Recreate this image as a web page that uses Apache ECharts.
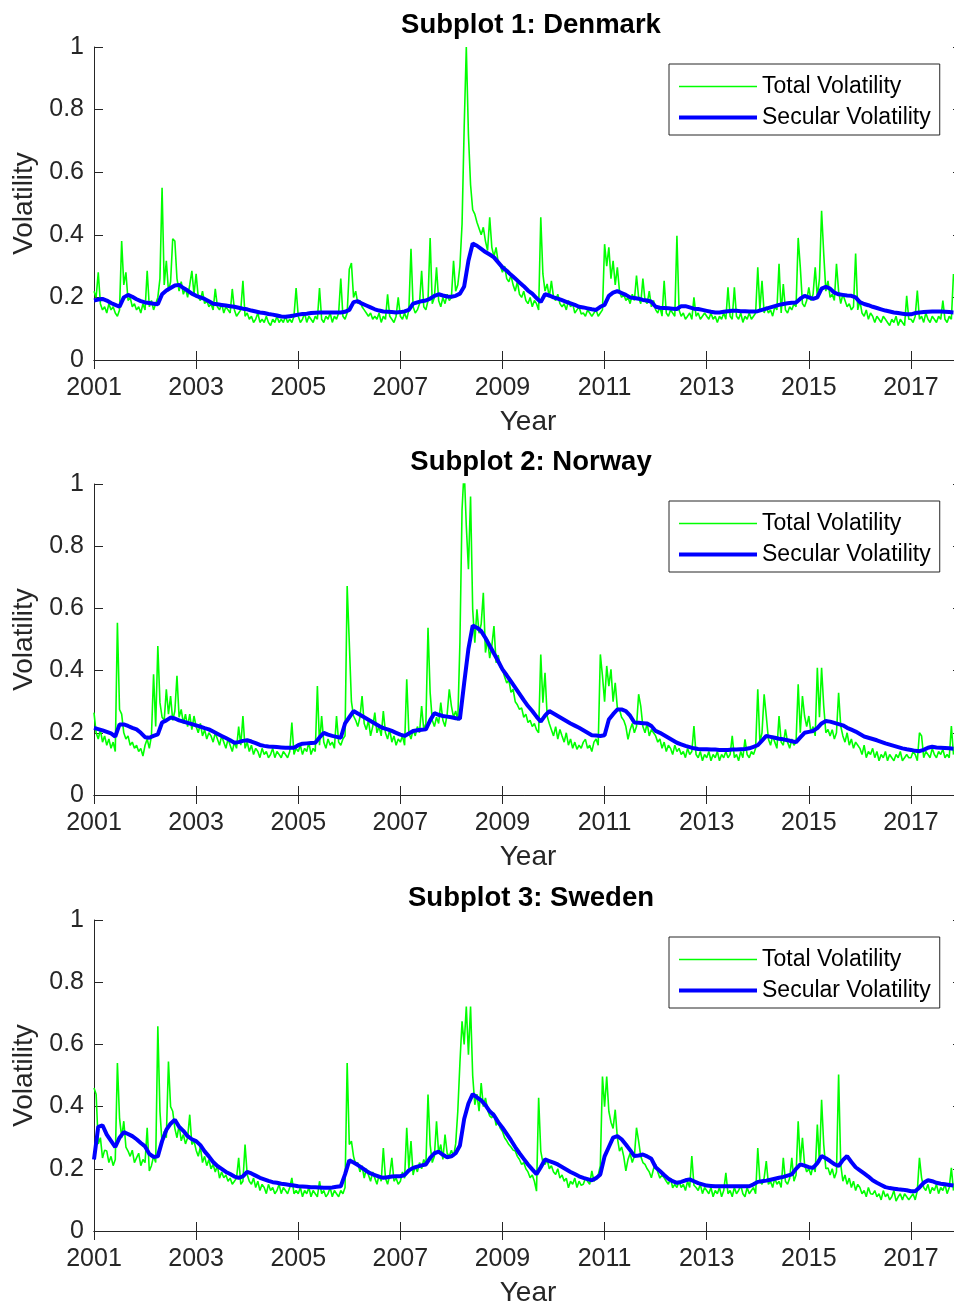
<!DOCTYPE html>
<html><head><meta charset="utf-8">
<script src="https://cdn.jsdelivr.net/npm/echarts@6/dist/echarts.min.js"></script>
<style>html,body{margin:0;padding:0;background:#fff}#c{width:954px;height:1307px}</style>
</head><body><div id="c"></div>
<script>
const startYear = 2001;
const titles = ['Subplot 1: Denmark', 'Subplot 2: Norway', 'Subplot 3: Sweden'];
const seriesNames = ['Total Volatility', 'Secular Volatility'];
const xLabel = 'Year';
const yLabel = 'Volatility';
// one row per year: total = 24 samples/year, secular = 12 samples/year
const dkTotal = [
[.22,.20,.28,.18,.16,.17,.15,.18,.16,.17,.15,.14,.16,.38,.24,.28,.19,.20,.17,.18,.16,.17,.15,.18],
[.16,.285,.17,.19,.16,.18,.20,.26,.55,.24,.317,.22,.25,.387,.38,.26,.22,.25,.21,.23,.20,.24,.285,.21],
[.275,.20,.19,.22,.18,.19,.17,.18,.16,.227,.17,.16,.18,.15,.17,.16,.15,.227,.16,.14,.15,.16,.253,.14],
[.15,.13,.14,.12,.13,.15,.12,.13,.12,.14,.12,.11,.13,.12,.14,.12,.13,.12,.14,.12,.13,.12,.14,.23],
[.14,.12,.13,.15,.12,.14,.13,.12,.14,.13,.23,.13,.12,.14,.13,.15,.12,.14,.13,.15,.26,.14,.13,.15],
[.29,.31,.20,.22,.18,.19,.17,.16,.15,.14,.15,.13,.14,.13,.15,.12,.14,.13,.21,.14,.13,.12,.14,.20],
[.14,.13,.15,.13,.16,.355,.17,.15,.16,.18,.285,.17,.16,.19,.39,.18,.20,.296,.19,.17,.20,.18,.21,.19],
[.20,.317,.22,.24,.30,.434,.743,1.0,.72,.56,.48,.466,.44,.42,.40,.424,.38,.35,.456,.36,.33,.36,.31,.30],
[.28,.30,.26,.25,.27,.24,.22,.25,.21,.20,.22,.19,.18,.20,.17,.19,.18,.16,.456,.275,.22,.243,.20,.253],
[.20,.19,.21,.18,.17,.18,.16,.19,.17,.18,.15,.16,.17,.147,.15,.14,.16,.15,.14,.15,.16,.14,.15,.16],
[.37,.30,.36,.26,.317,.24,.296,.22,.20,.21,.19,.20,.18,.21,.19,.27,.20,.18,.26,.19,.18,.22,.17,.19],
[.16,.15,.17,.14,.253,.15,.14,.16,.15,.14,.397,.16,.14,.15,.13,.14,.15,.13,.20,.14,.15,.13,.14,.15],
[.14,.13,.15,.13,.14,.12,.14,.13,.15,.13,.232,.14,.13,.232,.14,.13,.15,.12,.14,.13,.15,.13,.14,.15],
[.296,.16,.253,.15,.17,.15,.16,.14,.17,.16,.307,.15,.243,.16,.15,.17,.16,.18,.17,.39,.296,.18,.17,.19],
[.232,.19,.21,.296,.20,.26,.477,.34,.22,.253,.20,.21,.19,.307,.22,.18,.21,.19,.17,.18,.16,.17,.34,.16],
[.19,.15,.14,.16,.13,.15,.14,.12,.14,.13,.12,.14,.13,.12,.11,.13,.12,.14,.11,.13,.12,.11,.205,.13],
[.13,.12,.14,.222,.13,.14,.12,.15,.13,.12,.14,.13,.12,.14,.13,.19,.13,.12,.14,.13,.275]
];
const dkSecular = [
[.190,.193,.195,.190,.182,.176,.170,.200,.208,.202,.194,.188],
[.184,.182,.180,.178,.210,.222,.230,.238,.240,.230,.222,.212],
[.205,.200,.195,.188,.180,.178,.176,.174,.172,.170,.167,.164],
[.162,.158,.155,.152,.150,.147,.145,.142,.139,.138,.140,.142],
[.145,.147,.148,.150,.151,.152,.152,.152,.152,.152,.152,.154],
[.160,.185,.188,.180,.174,.168,.162,.158,.155,.154,.153,.152],
[.153,.155,.160,.180,.184,.188,.190,.196,.205,.210,.206,.203],
[.202,.205,.212,.235,.317,.372,.365,.355,.345,.337,.328,.312],
[.296,.285,.272,.260,.248,.236,.222,.212,.198,.185,.210,.206],
[.200,.196,.191,.186,.181,.176,.170,.168,.165,.162,.160,.170],
[.176,.205,.215,.220,.214,.208,.200,.198,.196,.192,.190,.186],
[.170,.167,.166,.165,.164,.163,.172,.172,.168,.164,.163,.160],
[.157,.154,.152,.152,.154,.156,.157,.157,.156,.156,.155,.155],
[.156,.160,.164,.168,.172,.176,.179,.181,.183,.184,.196,.205],
[.200,.195,.200,.228,.234,.228,.215,.210,.208,.206,.205,.200],
[.185,.179,.175,.170,.166,.162,.158,.155,.152,.150,.148,.146],
[.146,.150,.152,.153,.154,.155,.155,.155,.154,.153,.152]
];
const noTotal = [
[.265,.20,.18,.21,.17,.19,.16,.18,.15,.17,.14,.554,.275,.26,.20,.18,.19,.16,.17,.15,.16,.14,.15,.125],
[.16,.18,.15,.19,.388,.22,.479,.297,.25,.24,.34,.26,.318,.24,.27,.383,.25,.275,.23,.26,.22,.26,.21,.254],
[.22,.20,.23,.19,.21,.18,.20,.19,.17,.20,.18,.16,.19,.17,.15,.18,.16,.14,.17,.15,.22,.16,.254,.15],
[.17,.14,.16,.13,.15,.14,.12,.15,.13,.14,.12,.13,.15,.12,.14,.13,.12,.14,.13,.12,.14,.233,.13,.15],
[.14,.16,.13,.15,.14,.17,.13,.15,.14,.35,.16,.254,.17,.15,.18,.16,.17,.15,.254,.17,.16,.18,.19,.672],
[.49,.30,.254,.24,.22,.25,.318,.23,.21,.24,.19,.22,.265,.20,.22,.19,.27,.20,.18,.21,.17,.19,.16,.18],
[.17,.19,.16,.372,.20,.18,.21,.19,.22,.20,.286,.21,.23,.538,.33,.24,.22,.25,.23,.297,.24,.22,.26,.34],
[.286,.25,.27,.24,.49,.918,1.05,.865,.726,.96,.597,.49,.597,.52,.55,.65,.458,.50,.44,.48,.543,.425,.45,.41],
[.404,.38,.36,.37,.33,.34,.30,.29,.275,.28,.25,.26,.233,.24,.22,.23,.21,.20,.452,.297,.393,.254,.23,.21],
[.19,.22,.18,.211,.19,.17,.20,.16,.18,.15,.17,.147,.16,.15,.17,.179,.15,.16,.14,.17,.18,.16,.452,.383],
[.30,.415,.35,.404,.30,.361,.28,.275,.25,.24,.22,.179,.21,.23,.20,.22,.324,.286,.22,.20,.23,.19,.211,.20],
[.19,.17,.18,.15,.17,.14,.16,.15,.13,.16,.14,.15,.13,.14,.12,.15,.13,.14,.222,.13,.12,.14,.11,.13],
[.12,.14,.11,.13,.12,.14,.11,.13,.12,.14,.12,.13,.19,.12,.13,.11,.14,.12,.179,.13,.12,.14,.13,.15],
[.34,.17,.20,.324,.254,.18,.16,.19,.17,.15,.254,.17,.16,.211,.17,.15,.18,.16,.17,.356,.20,.318,.254,.22],
[.254,.20,.22,.19,.409,.25,.409,.286,.20,.211,.19,.21,.18,.20,.329,.222,.19,.17,.20,.16,.18,.15,.17,.16],
[.15,.13,.16,.12,.14,.13,.15,.12,.14,.11,.13,.12,.14,.11,.13,.12,.11,.13,.12,.14,.11,.12,.13,.12],
[.12,.14,.13,.11,.20,.19,.12,.14,.13,.12,.15,.13,.12,.14,.13,.147,.12,.13,.12,.222,.13]
];
const noSecular = [
[.216,.212,.208,.203,.198,.188,.227,.227,.222,.216,.211,.200],
[.186,.184,.190,.195,.233,.240,.249,.246,.240,.236,.232,.228],
[.224,.220,.215,.211,.204,.197,.190,.183,.176,.168,.170,.174],
[.176,.172,.167,.161,.158,.156,.155,.154,.153,.152,.152,.152],
[.160,.165,.166,.167,.168,.185,.200,.194,.190,.187,.184,.230],
[.250,.270,.262,.254,.246,.238,.230,.222,.215,.211,.206,.200],
[.194,.190,.198,.206,.208,.210,.211,.240,.263,.258,.254,.252],
[.250,.247,.245,.360,.470,.545,.538,.527,.505,.480,.455,.430],
[.404,.385,.365,.345,.325,.305,.286,.270,.252,.236,.255,.270],
[.262,.254,.246,.238,.230,.223,.216,.208,.200,.192,.191,.190],
[.192,.243,.260,.275,.275,.270,.255,.233,.232,.231,.230,.222],
[.206,.200,.192,.184,.176,.168,.163,.158,.154,.150,.148,.147],
[.147,.146,.146,.145,.145,.145,.146,.146,.147,.148,.150,.155],
[.160,.175,.190,.187,.184,.181,.179,.176,.173,.170,.185,.200],
[.203,.206,.215,.230,.238,.236,.232,.228,.224,.216,.210,.204],
[.196,.188,.184,.180,.176,.171,.166,.162,.158,.154,.150,.147],
[.145,.142,.141,.145,.152,.155,.153,.152,.151,.150,.149]
];
const seTotal = [
[.46,.44,.28,.30,.235,.26,.257,.22,.24,.21,.23,.54,.364,.30,.353,.27,.257,.24,.26,.22,.235,.25,.21,.23],
[.22,.332,.193,.21,.24,.22,.658,.385,.28,.32,.30,.545,.40,.385,.33,.30,.34,.29,.31,.28,.30,.374,.278,.29],
[.26,.24,.27,.22,.24,.21,.23,.20,.214,.19,.21,.17,.19,.171,.18,.16,.17,.15,.16,.17,.235,.15,.16,.278],
[.182,.16,.15,.17,.14,.16,.13,.15,.14,.12,.15,.13,.14,.12,.13,.15,.12,.14,.13,.12,.14,.171,.12,.13],
[.12,.14,.11,.13,.12,.14,.11,.13,.12,.11,.16,.12,.13,.11,.12,.14,.11,.13,.12,.11,.13,.12,.14,.54],
[.278,.289,.24,.214,.22,.19,.21,.17,.20,.18,.16,.19,.17,.15,.18,.16,.267,.17,.15,.18,.235,.16,.17,.15],
[.16,.19,.17,.332,.20,.289,.18,.21,.19,.22,.20,.23,.21,.439,.278,.22,.24,.353,.25,.278,.23,.31,.25,.24],
[.26,.24,.28,.385,.54,.674,.60,.722,.567,.722,.50,.406,.44,.385,.476,.40,.428,.39,.37,.364,.38,.34,.35,.33],
[.32,.30,.29,.278,.27,.26,.257,.24,.23,.214,.22,.20,.19,.171,.18,.16,.128,.428,.257,.22,.214,.23,.20,.21],
[.19,.182,.20,.17,.18,.16,.17,.139,.16,.15,.17,.14,.16,.147,.15,.17,.16,.15,.193,.16,.17,.18,.21,.497],
[.40,.497,.385,.35,.33,.39,.30,.257,.27,.24,.193,.23,.25,.22,.24,.332,.289,.24,.22,.214,.20,.19,.171,.20],
[.214,.19,.17,.18,.171,.16,.15,.17,.139,.15,.14,.16,.14,.15,.13,.16,.14,.241,.147,.14,.13,.15,.12,.14],
[.13,.12,.14,.11,.13,.12,.14,.11,.13,.187,.12,.13,.11,.14,.12,.13,.147,.12,.11,.14,.12,.13,.14,.12],
[.267,.16,.15,.17,.225,.15,.16,.14,.17,.15,.16,.14,.235,.16,.15,.17,.235,.16,.18,.353,.22,.30,.214,.19],
[.20,.18,.21,.19,.342,.22,.422,.278,.20,.203,.18,.20,.17,.19,.503,.214,.16,.18,.15,.17,.14,.16,.13,.15],
[.14,.12,.13,.11,.14,.12,.118,.13,.11,.12,.10,.13,.11,.12,.10,.11,.13,.096,.11,.12,.10,.12,.11,.10],
[.11,.12,.10,.13,.235,.171,.14,.13,.15,.12,.14,.13,.15,.12,.14,.13,.15,.12,.14,.203,.13]
];
const seSecular = [
[.230,.335,.340,.310,.290,.270,.300,.318,.312,.305,.295,.283],
[.272,.248,.238,.240,.289,.325,.345,.358,.335,.322,.305,.295],
[.289,.276,.256,.240,.222,.209,.200,.190,.183,.175,.171,.176],
[.190,.185,.178,.171,.166,.161,.157,.155,.152,.150,.148,.146],
[.144,.143,.142,.141,.141,.140,.139,.139,.140,.142,.144,.182],
[.227,.220,.212,.203,.193,.185,.180,.175,.171,.173,.175,.176],
[.176,.180,.195,.203,.207,.211,.214,.235,.250,.255,.245,.237],
[.240,.250,.275,.360,.410,.440,.430,.420,.405,.385,.372,.350],
[.332,.312,.292,.270,.250,.232,.214,.198,.183,.205,.230,.225],
[.220,.214,.206,.198,.190,.183,.176,.171,.167,.163,.170,.182],
[.240,.270,.300,.305,.295,.278,.260,.241,.243,.246,.240,.232],
[.205,.193,.180,.168,.160,.155,.158,.163,.166,.160,.154,.150],
[.146,.145,.144,.144,.144,.144,.144,.144,.144,.144,.144,.150],
[.158,.160,.162,.165,.168,.171,.174,.178,.182,.200,.214,.210],
[.205,.203,.218,.241,.234,.225,.215,.209,.228,.241,.222,.205],
[.195,.185,.175,.163,.155,.148,.141,.138,.136,.134,.133,.131],
[.128,.128,.140,.155,.163,.160,.155,.152,.150,.148,.146]
];

function toPoints(rows, perYear) {
  const pts = [];
  rows.forEach((row, y) => row.forEach((v, k) => pts.push([startYear + y + k / perYear, v])));
  return pts;
}

const FONT = '"Liberation Sans", Arial, Helvetica, sans-serif';
const AX = '#262626';
const gridTops = [47, 484, 920];
const gridHeights = [313, 311, 311];
const totals = [dkTotal, noTotal, seTotal];
const seculars = [dkSecular, noSecular, seSecular];
const X_MIN = 2001, X_MAX = 2018;
const HIDE = { color: 'rgba(0,0,0,0)', borderWidth: 0, opacity: 0 };

const option = {
  animation: false,
  backgroundColor: '#fff',
  textStyle: { fontFamily: FONT },
  title: titles.map((t, i) => ({
    text: t, left: 526, textAlign: 'center', top: gridTops[i] - 41,
    textStyle: { fontFamily: FONT, fontSize: 27.5, fontWeight: 'bold', color: '#000' }
  })),
  legend: gridTops.map((top, i) => ({
    show: true, orient: 'vertical', left: 669, top: top + 17,
    padding: [11, 9, 6, 8], itemGap: 8, itemWidth: 78, itemHeight: 22,
    backgroundColor: '#fff', borderColor: AX, borderWidth: 1,
    textStyle: { fontFamily: FONT, fontSize: 23, color: '#000' },
    selectedMode: false,
    data: [
      { name: seriesNames[0], itemStyle: HIDE, lineStyle: { width: 1.6, color: '#00ff00' } },
      { name: seriesNames[1], itemStyle: HIDE, lineStyle: { width: 4, color: '#0000ff' } }
    ]
  })),
  grid: gridTops.map((top, i) => ({ left: 94, top: top, width: 868, height: gridHeights[i], outerBoundsMode: 'none', containLabel: false })),
  xAxis: [],
  yAxis: [],
  series: []
};

for (let i = 0; i < 3; i++) {
  const common = { type: 'value', gridIndex: i, min: X_MIN, max: X_MAX, interval: 2,
    axisLine: { show: true, lineStyle: { color: AX, width: 1 } },
    axisTick: { show: true, inside: true, length: 9, lineStyle: { color: AX } },
    splitLine: { show: false } };
  option.xAxis.push(Object.assign({}, common, {
    position: 'bottom', name: xLabel, nameLocation: 'middle', nameGap: 48,
    nameTextStyle: { fontFamily: FONT, fontSize: 28, color: AX },
    axisLabel: { show: true, fontFamily: FONT, fontSize: 25, color: AX, margin: 16, showMaxLabel: false,
      formatter: v => (Math.abs(v - Math.round(v)) < 1e-6 && Math.round(v) % 2 === 1 ? String(Math.round(v)) : '') }
  }));
  option.xAxis.push(Object.assign({}, common, { position: 'top', axisLabel: { show: false } }));
  const ycommon = { type: 'value', gridIndex: i, min: 0, max: 1, interval: 0.2,
    axisLine: { show: true, lineStyle: { color: AX, width: 1 } },
    axisTick: { show: true, inside: true, length: 9, lineStyle: { color: AX } },
    splitLine: { show: false } };
  option.yAxis.push(Object.assign({}, ycommon, {
    position: 'left', name: yLabel, nameLocation: 'middle', nameGap: 56,
    nameTextStyle: { fontFamily: FONT, fontSize: 28, color: AX },
    axisLabel: { fontFamily: FONT, fontSize: 25, color: AX, margin: 10 }
  }));
  option.yAxis.push(Object.assign({}, ycommon, { position: 'right', axisLabel: { show: false } }));
  option.series.push({
    type: 'line', name: seriesNames[0], xAxisIndex: 2 * i, yAxisIndex: 2 * i,
    data: toPoints(totals[i], 24), symbol: 'none', showSymbol: false, clip: true,
    lineStyle: { color: '#00ff00', width: 1.6 }, itemStyle: { color: '#00ff00' }, z: 2
  });
  option.series.push({
    type: 'line', name: seriesNames[1], xAxisIndex: 2 * i, yAxisIndex: 2 * i,
    data: toPoints(seculars[i], 12), symbol: 'none', showSymbol: false, clip: true,
    lineStyle: { color: '#0000ff', width: 4 }, itemStyle: { color: '#0000ff' }, z: 3
  });
}

const chart = echarts.init(document.getElementById('c'), null, { renderer: 'canvas' });
chart.setOption(option);
</script></body></html>
